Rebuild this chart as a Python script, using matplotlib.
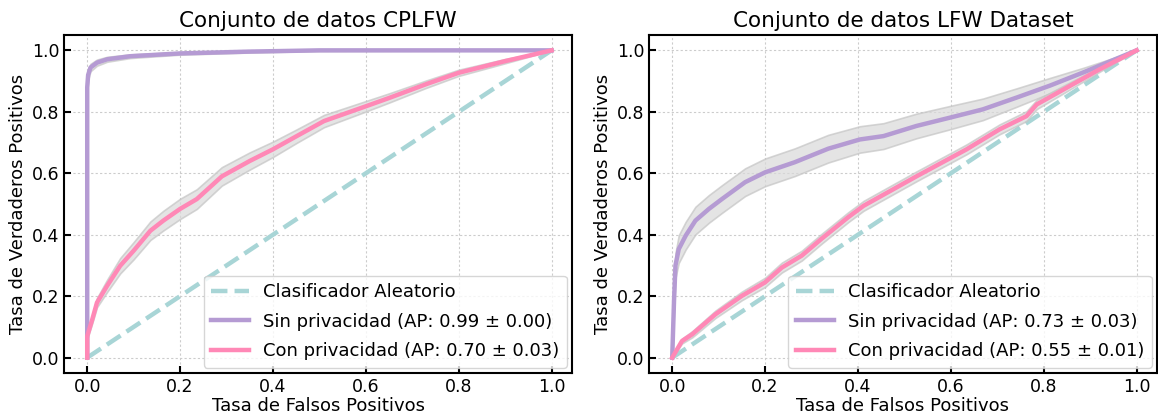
import matplotlib
matplotlib.use("Agg")
import matplotlib.pyplot as plt
import numpy as np

# CPLFW
cplfw_sin_fpr = [0, 0, 0.002, 0.007, 0.021, 0.043, 0.093, 0.2, 0.35, 0.5, 1.0]
cplfw_sin_tpr = [0, 0.88, 0.92, 0.944, 0.96, 0.971, 0.981, 0.99, 0.996, 1.0, 1.0]
cplfw_sin_std = [0, 0.02, 0.015, 0.012, 0.01, 0.008, 0.006, 0.004, 0.003, 0.002, 0]

cplfw_con_fpr = [0, 0, 0.011, 0.021, 0.043, 0.071, 0.1, 0.136, 0.164, 0.2, 0.236, 0.29,
                 0.35, 0.4, 0.45, 0.51, 0.6, 0.65, 0.73, 0.8, 0.9, 1.0]
cplfw_con_tpr = [0, 0.07, 0.125, 0.179, 0.234, 0.299, 0.348, 0.413, 0.446, 0.484, 0.516, 0.59,
                 0.64, 0.678, 0.72, 0.77, 0.818, 0.845, 0.89, 0.927, 0.965, 1.0]
cplfw_con_std = [0, 0.01, 0.012, 0.015, 0.02, 0.025, 0.028, 0.03, 0.032, 0.033, 0.032, 0.03,
                 0.028, 0.025, 0.022, 0.02, 0.017, 0.015, 0.012, 0.01, 0.007, 0]

# LFW
lfw_sin_fpr = [0, 0.004, 0.007, 0.014, 0.029, 0.05, 0.079, 0.107, 0.157, 0.2, 0.264, 0.336,
               0.404, 0.455, 0.526, 0.598, 0.669, 0.741, 0.813, 0.885, 1.0]
lfw_sin_tpr = [0, 0.19, 0.30, 0.353, 0.397, 0.446, 0.484, 0.516, 0.571, 0.603, 0.636, 0.68,
               0.71, 0.721, 0.754, 0.781, 0.808, 0.846, 0.885, 0.928, 1.0]
lfw_sin_std = [0, 0.03, 0.04, 0.045, 0.045, 0.045, 0.045, 0.045, 0.045, 0.045, 0.045, 0.045,
               0.043, 0.042, 0.04, 0.038, 0.035, 0.03, 0.025, 0.015, 0]

lfw_con_fpr = [0, 0.021, 0.043, 0.093, 0.15, 0.2, 0.236, 0.279, 0.321, 0.379, 0.412, 0.526,
               0.634, 0.705, 0.763, 0.785, 0.849, 0.92, 1.0]
lfw_con_tpr = [0, 0.054, 0.076, 0.141, 0.201, 0.245, 0.293, 0.332, 0.386, 0.457, 0.494, 0.59,
               0.678, 0.743, 0.786, 0.824, 0.878, 0.938, 1.0]
lfw_con_std = [0, 0.008, 0.01, 0.012, 0.014, 0.015, 0.016, 0.016, 0.016, 0.016, 0.016, 0.016,
               0.016, 0.016, 0.016, 0.015, 0.012, 0.008, 0]

titles = ["Conjunto de datos CPLFW", "Conjunto de datos LFW Dataset"]
labels_sin = ["Sin privacidad (AP: 0.99 ± 0.00)", "Sin privacidad (AP: 0.73 ± 0.03)"]
labels_con = ["Con privacidad (AP: 0.70 ± 0.03)", "Con privacidad (AP: 0.55 ± 0.01)"]

c_rand = "#a8d5d6"
c_sin = "#b59bd3"
c_con = "#ff88b6"

data = [
    (cplfw_sin_fpr, cplfw_sin_tpr, cplfw_sin_std, cplfw_con_fpr, cplfw_con_tpr, cplfw_con_std),
    (lfw_sin_fpr, lfw_sin_tpr, lfw_sin_std, lfw_con_fpr, lfw_con_tpr, lfw_con_std),
]

W, H = 1158, 417
fig = plt.figure(figsize=(W / 100, H / 100), dpi=100)
ax_left = [64, 649]

for i in range(2):
    ax = fig.add_axes([ax_left[i] / W, 44 / H, 508 / W, 338 / H])
    sf, st, ss, cf, ct, cs = [np.array(a, dtype=float) for a in data[i]]

    ax.plot([0, 1], [0, 1], linestyle="--", color=c_rand, lw=3.2, label="Clasificador Aleatorio", zorder=2)
    ax.fill_between(sf, np.clip(st - ss, 0, 1), np.clip(st + ss, 0, 1), color="#d9d9d9",
                    alpha=0.7, edgecolor="#c4c4c4", linewidth=1.2, zorder=3)
    ax.plot(sf, st, color=c_sin, lw=3.2, label=labels_sin[i], zorder=4)
    ax.fill_between(cf, np.clip(ct - cs, 0, 1), np.clip(ct + cs, 0, 1), color="#d9d9d9",
                    alpha=0.7, edgecolor="#c4c4c4", linewidth=1.2, zorder=3)
    ax.plot(cf, ct, color=c_con, lw=3.2, label=labels_con[i], zorder=5)

    ax.set_xlim(-0.05, 1.044)
    ax.set_ylim(-0.05, 1.05)
    ax.set_xticks([0, 0.2, 0.4, 0.6, 0.8, 1.0])
    ax.set_yticks([0, 0.2, 0.4, 0.6, 0.8, 1.0])
    ax.grid(True, linestyle=(0, (2, 2)), color="#cccccc", lw=0.8)
    ax.tick_params(direction="in", length=5, width=1.5, labelsize=12.5)
    for s in ax.spines.values():
        s.set_linewidth(1.5)
    ax.set_title(titles[i], fontsize=15.5)
    ax.set_xlabel("Tasa de Falsos Positivos", fontsize=13, labelpad=1)
    ax.set_ylabel("Tasa de Verdaderos Positivos", fontsize=13, labelpad=3)
    ax.legend(loc="lower right", fontsize=13, handlelength=2.1, borderaxespad=0.3,
              labelspacing=0.65)

fig.savefig("out.png", dpi=100)
